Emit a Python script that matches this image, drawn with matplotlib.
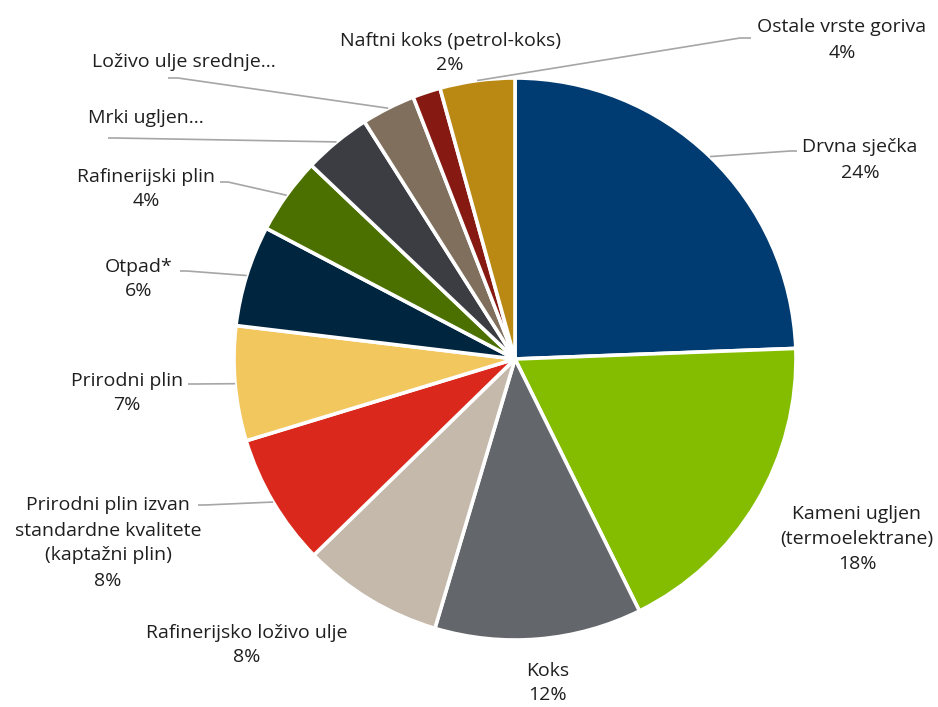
import matplotlib
matplotlib.use("Agg")
import matplotlib.pyplot as plt
import numpy as np

# ---- data ----
categories = [
    "Drvna sječka",
    "Kameni ugljen\n(termoelektrane)",
    "Koks",
    "Rafinerijsko loživo ulje",
    "Prirodni plin izvan\nstandardne kvalitete\n(kaptažni plin)",
    "Prirodni plin",
    "Otpad*",
    "Rafinerijski plin",
    "Mrki ugljen...",
    "Loživo ulje srednje...",
    "Naftni koks (petrol-koks)",
    "Ostale vrste goriva",
]
values = [24.4, 18.3, 11.9, 8.1, 7.6, 6.6, 5.8, 4.4, 3.9, 3.1, 1.6, 4.3]
show_pct = [True, True, True, True, True, True, True, True, False, False, True, True]
colors = ["#003B71", "#84BD00", "#63666A", "#C4B9AB", "#DA291C", "#F2C75E",
          "#00263F", "#4B7000", "#3C3D42", "#7F6F5C", "#861A12", "#BA8913"]

# ---- layout (image pixel coordinates, y downward) ----
W, H = 938, 707
CX, CY, R = 515, 359, 281
# label block centre (x, y) and leader path points (elbow, end) or None
label_pos = [
    (860, 160), (857, 539), (548, 683), (247, 645), (108, 543), (127, 393),
    (139, 279), (146, 189), (146, 118), (184, 62), (450, 53), (842, 40),
]
leaders = [
    [(790, 151), (797, 151)],
    None, None, None,
    [(205, 505), (198, 505)],
    [(195, 384), (188, 384)],
    [(187, 271), (180, 271)],
    [(228, 182), (220, 182)],
    [(115, 138), (108, 138)],
    [(178, 78), (168, 78)],
    None,
    [(740, 38), (751, 38)],
]

plt.rcParams['font.family'] = ['Open Sans', 'DejaVu Sans']

fig = plt.figure(figsize=(W / 100, H / 100), dpi=100)
ax = fig.add_axes([0, 0, 1, 1])
ax.set_xlim(0, W)
ax.set_ylim(0, H)
ax.set_aspect('equal')
ax.axis('off')

wedges, _ = ax.pie(values, colors=colors, startangle=90, counterclock=False,
                   center=(CX, H - CY), radius=R,
                   wedgeprops=dict(edgecolor='white', linewidth=2.6))
ax.set_xlim(0, W)
ax.set_ylim(0, H)

txt_color = "#1F1F1F"
for i, w in enumerate(wedges):
    text = categories[i]
    if show_pct[i]:
        text += "\n%d%%" % round(values[i])
    lx, ly = label_pos[i]
    ax.text(lx, H - ly, text, ha='center', va='center', multialignment='center',
            fontsize=14.0, color=txt_color, linespacing=1.5)
    if leaders[i] is not None:
        mid = np.deg2rad((w.theta1 + w.theta2) / 2)
        sx = CX + R * np.cos(mid)
        sy = (H - CY) + R * np.sin(mid)
        xs = [sx] + [p[0] for p in leaders[i]]
        ys = [sy] + [H - p[1] for p in leaders[i]]
        ax.plot(xs, ys, color="#A6A6A6", linewidth=1.2, solid_capstyle='butt')

fig.savefig("out.png", dpi=100, facecolor='white')
